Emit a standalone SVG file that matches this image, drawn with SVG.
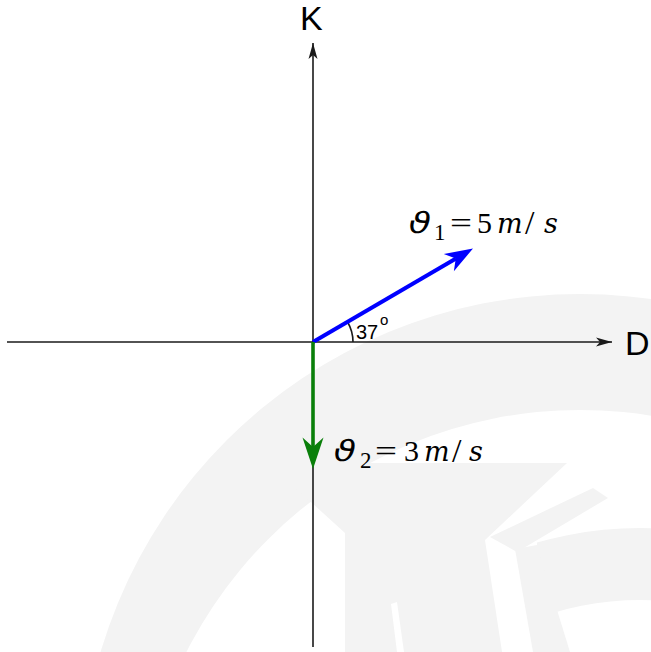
<svg xmlns="http://www.w3.org/2000/svg" width="651" height="652" viewBox="0 0 651 652">
<style>
.wm{fill:#f3f3f3;stroke:none}
.axis{stroke:#1a1a1a;stroke-width:1.6;fill:none}
.ah{fill:#1a1a1a}
.lbl{font-family:"Liberation Sans","DejaVu Sans",sans-serif;fill:#000}
.math{font-family:"Liberation Serif","DejaVu Serif",serif;fill:#000;font-size:30px}
.it{font-family:"DejaVu Serif","Liberation Serif",serif;font-style:italic;font-size:27px}
.th{font-family:"DejaVu Sans","Liberation Sans",sans-serif;font-size:29px;fill:#000}
.sub{font-size:23px}
.sl{font-size:34px}
.eq{font-family:"Liberation Serif","DejaVu Serif",serif;font-size:30px;fill:#000}
</style>
<defs>
<marker id="ax" viewBox="-17 -5 18 10" refX="0" refY="0" markerWidth="18" markerHeight="10" markerUnits="userSpaceOnUse" orient="auto">
<path d="M0,0 L-16,-4.5 L-12,0 L-16,4.5 Z" class="ah"/>
</marker>
<clipPath id="cr"><rect x="537" y="0" width="114" height="652"/></clipPath>
</defs>
<rect width="651" height="652" fill="#fff"/>
<g id="watermark">
<path class="wm" fill-rule="evenodd" d="M80,794 A500,500 0 0 1 1080,794 A500,500 0 0 1 80,794 Z M139,851 A441,441 0 0 0 1021,851 A441,441 0 0 0 139,851 Z"/>
<path class="wm" clip-path="url(#cr)" fill-rule="evenodd" d="M268,900 A372,372 0 0 1 1012,900 A372,372 0 0 1 268,900 Z M340,900 A300,300 0 0 0 940,900 A300,300 0 0 0 340,900 Z"/>
<path class="wm" d="M268,463 L567,463 L485,540 L502,652 L345,652 L345,533 Z"/>
<path fill="#fff" d="M391,604 L397,602 L404,652 L397,652 Z"/>
<path class="wm" d="M490,537 L593,488 L608,498 L517,552 Z"/>
<path class="wm" d="M515,549 L537,545 L570,652 L533,652 Z"/>
</g>
<g id="connectors">
<line id="axis-x" class="axis" x1="7" y1="342" x2="612" y2="342" marker-end="url(#ax)"/>
<line id="axis-y-top" class="axis" x1="313" y1="342" x2="313" y2="43" marker-end="url(#ax)"/>
<line id="axis-y-bottom" class="axis" x1="313" y1="342" x2="313" y2="647"/>
<path id="angle-arc" class="axis" stroke-width="1.3" d="M353,342 A40,40 0 0 0 347.6,322"/>
<g id="v1">
<line x1="313" y1="342" x2="456" y2="258.4" stroke="#0000ff" stroke-width="4"/>
<path transform="translate(473,248.5) rotate(-30.3)" d="M0,0 L-28,-10 L-20,0 L-28,10 Z" fill="#0000ff"/>
</g>
<g id="v2">
<line x1="313" y1="342" x2="313" y2="448" stroke="#0a7f0a" stroke-width="3.6"/>
<path d="M313,469 L302.5,437.5 L313,447 L323.5,437.5 Z" fill="#0a7f0a"/>
</g>
</g>
<g id="label-K"><text class="lbl" x="300" y="30" font-size="34">K</text></g>
<g id="label-D"><text class="lbl" x="625" y="355" font-size="34">D</text></g>
<g id="label-angle">
<text class="lbl" x="356" y="339" font-size="20">37</text>
<text class="lbl" x="380" y="325" font-size="15">o</text>
</g>
<g id="label-v1">
<text class="th" transform="translate(406,233) skewX(-14) scale(1.25,1)">ϑ</text>
<text class="eq" transform="translate(450,233) scale(1.3,1)">=</text>
<text class="math"><tspan class="sub" x="434" y="240">1</tspan><tspan x="477" y="233">5</tspan><tspan class="it" x="497" y="233">m</tspan><tspan class="sl" x="525" y="234">/</tspan><tspan class="it" x="544" y="233">s</tspan></text>
</g>
<g id="label-v2">
<text class="th" transform="translate(331,461) skewX(-14) scale(1.25,1)">ϑ</text>
<text class="eq" transform="translate(375,461) scale(1.3,1)">=</text>
<text class="math"><tspan class="sub" x="360" y="468">2</tspan><tspan x="404" y="461">3</tspan><tspan class="it" x="424" y="461">m</tspan><tspan class="sl" x="452" y="462">/</tspan><tspan class="it" x="469" y="461">s</tspan></text>
</g>
</svg>
